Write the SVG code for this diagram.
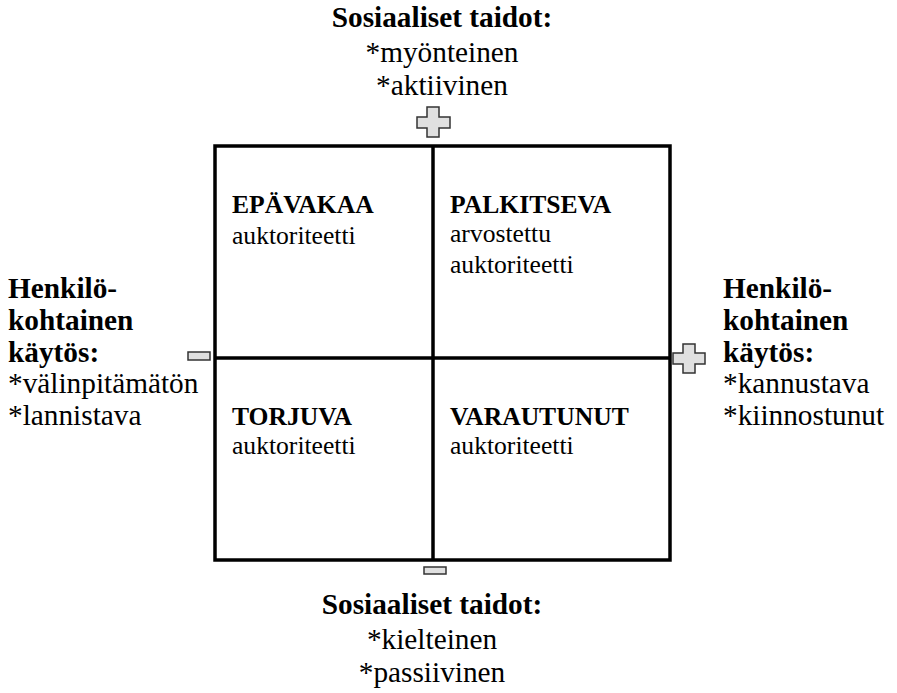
<svg xmlns="http://www.w3.org/2000/svg" width="897" height="693" viewBox="0 0 897 693" font-family="'Liberation Serif', 'Times New Roman', serif">
<style>
text{font-family:"Liberation Serif","Times New Roman",serif;fill:#000}
.o{font-size:29.3px}
.q{font-size:25.6px}
.b{font-weight:bold}
.m{text-anchor:middle}
.sym{fill:#e0e0e0;stroke:#333;stroke-width:1.5}
.grid{fill:none;stroke:#000;stroke-width:3.5}
</style>
<rect width="897" height="693" fill="#fff"/>
<g id="grid" class="grid">
<rect x="215" y="146" width="455" height="414"/>
<line x1="433" y1="146" x2="433" y2="560"/>
<line x1="215" y1="358" x2="670" y2="358"/>
</g>
<g id="q-epavakaa">
<text class="q b" x="232" y="213">EPÄVAKAA</text>
<text class="q" x="232" y="244">auktoriteetti</text>
</g>
<g id="q-palkitseva">
<text class="q b" x="450" y="213">PALKITSEVA</text>
<text class="q" x="450" y="242">arvostettu</text>
<text class="q" x="450" y="273">auktoriteetti</text>
</g>
<g id="q-torjuva">
<text class="q b" x="232" y="425">TORJUVA</text>
<text class="q" x="232" y="454">auktoriteetti</text>
</g>
<g id="q-varautunut">
<text class="q b" x="450" y="425">VARAUTUNUT</text>
<text class="q" x="450" y="454">auktoriteetti</text>
</g>
<g id="top-label">
<text class="o b m" x="442" y="27">Sosiaaliset taidot:</text>
<text class="o m" x="442" y="62">*myönteinen</text>
<text class="o m" x="442" y="95">*aktiivinen</text>
</g>
<g id="bottom-label">
<text class="o b m" x="432" y="614">Sosiaaliset taidot:</text>
<text class="o m" x="432" y="649">*kielteinen</text>
<text class="o m" x="432" y="682">*passiivinen</text>
</g>
<g id="left-label">
<text class="o b" x="8" y="298">Henkilö-</text>
<text class="o b" x="8" y="330">kohtainen</text>
<text class="o b" x="8" y="362">käytös:</text>
<text class="o" x="8" y="393">*välinpitämätön</text>
<text class="o" x="8" y="425">*lannistava</text>
</g>
<g id="right-label">
<text class="o b" x="723" y="298">Henkilö-</text>
<text class="o b" x="723" y="330">kohtainen</text>
<text class="o b" x="723" y="362">käytös:</text>
<text class="o" x="723" y="393">*kannustava</text>
<text class="o" x="723" y="425">*kiinnostunut</text>
</g>
<g id="sym-top-plus"><path class="sym" d="M427,107H439V117H450V128H439V137H427V128H417V117H427Z"/></g>
<g id="sym-right-plus"><path class="sym" d="M683,344H695V353H705V364H695V373H683V364H673V353H683Z"/></g>
<g id="sym-left-minus"><rect class="sym" x="188" y="352" width="22" height="8"/></g>
<g id="sym-bottom-minus"><rect class="sym" x="424" y="567" width="22" height="7"/></g>
</svg>
